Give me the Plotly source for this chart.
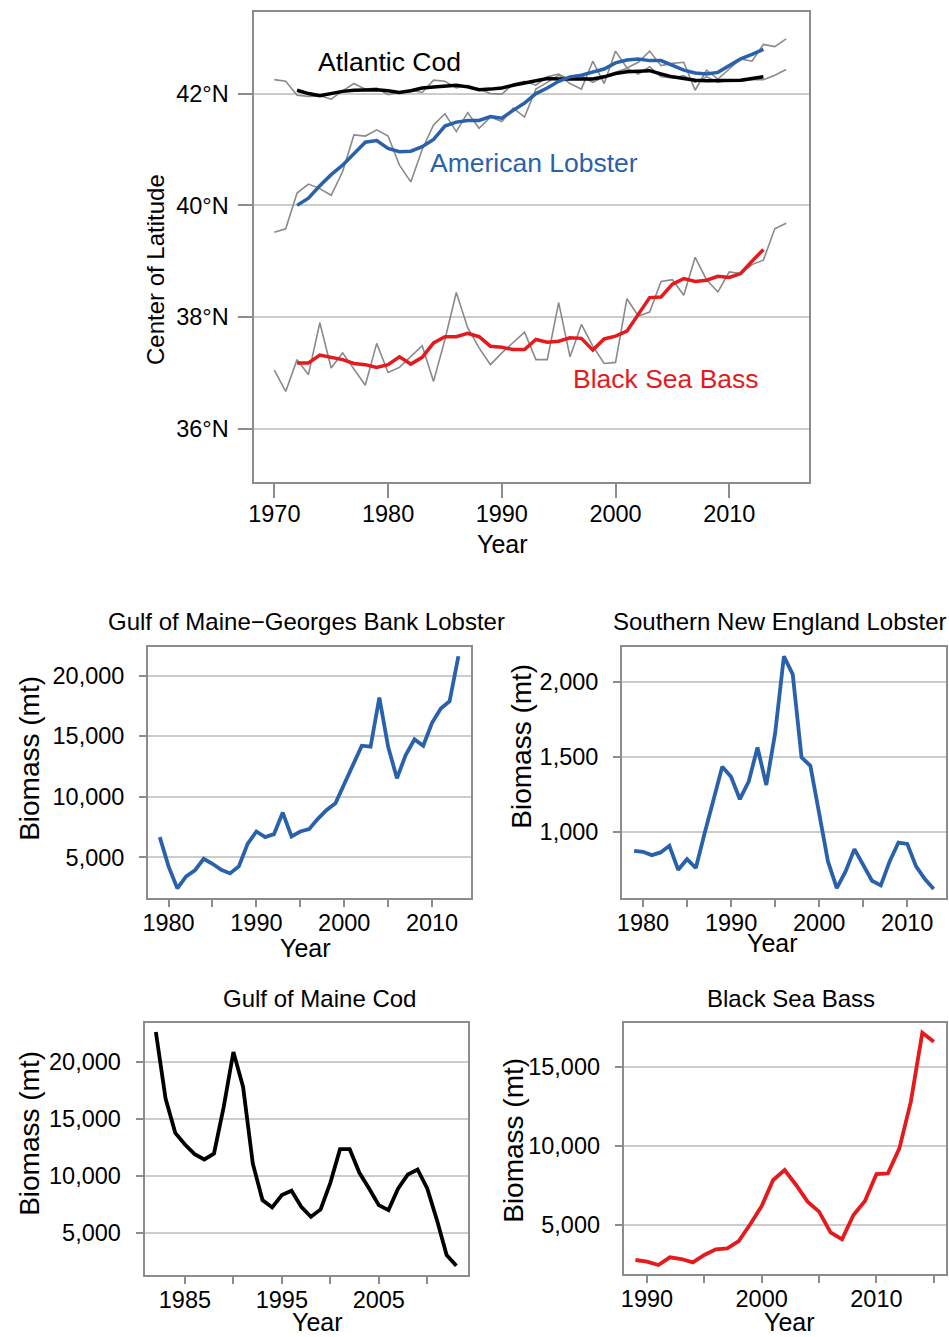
import plotly.graph_objects as go

# ---------------- Data ----------------
years_raw = list(range(1970, 2016))
years_smooth = list(range(1972, 2014))

cod_raw = [42.25, 42.22, 41.97, 41.95, 41.96, 41.90, 42.05, 42.18, 42.08, 42.10,
           41.98, 42.03, 42.06, 42.02, 42.24, 42.22, 42.10, 42.15, 42.08, 42.00,
           41.99, 42.17, 42.22, 42.15, 42.30, 42.35, 42.25, 42.32, 42.20, 42.30,
           42.38, 42.45, 42.35, 42.48, 42.30, 42.28, 42.32, 42.20, 42.30, 42.20,
           42.25, 42.22, 42.25, 42.25, 42.33, 42.43]
cod_smooth = [42.06, 42.00, 41.96, 42.00, 42.04, 42.06, 42.07, 42.07, 42.05, 42.02,
              42.05, 42.10, 42.12, 42.14, 42.15, 42.12, 42.07, 42.08, 42.10, 42.15,
              42.19, 42.23, 42.27, 42.26, 42.26, 42.25, 42.26, 42.30, 42.36, 42.39,
              42.40, 42.41, 42.35, 42.30, 42.27, 42.24, 42.23, 42.23, 42.23, 42.24,
              42.27, 42.30]

lob_raw = [39.52, 39.58, 40.22, 40.38, 40.30, 40.18, 40.60, 41.26, 41.24, 41.35,
           41.24, 40.72, 40.42, 41.00, 41.44, 41.64, 41.32, 41.66, 41.38, 41.58,
           41.50, 41.74, 41.58, 42.08, 42.20, 42.33, 42.18, 42.08, 42.58, 42.18,
           42.76, 42.46, 42.56, 42.76, 42.50, 42.54, 42.56, 42.06, 42.42, 42.26,
           42.44, 42.62, 42.58, 42.88, 42.84, 42.98]
lob_smooth = [40.00, 40.13, 40.35, 40.55, 40.72, 40.92, 41.13, 41.16, 41.02, 40.96,
              40.97, 41.05, 41.18, 41.42, 41.49, 41.52, 41.52, 41.59, 41.56, 41.70,
              41.83, 42.00, 42.10, 42.22, 42.30, 42.33, 42.38, 42.44, 42.55, 42.60,
              42.62, 42.59, 42.59, 42.50, 42.42, 42.37, 42.35, 42.38, 42.50, 42.62,
              42.70, 42.79]

bsb_raw = [37.05, 36.67, 37.24, 36.97, 37.90, 37.09, 37.36, 37.06, 36.78, 37.53,
           37.01, 37.10, 37.30, 37.49, 36.85, 37.60, 38.44, 37.81, 37.45, 37.15,
           37.36, 37.54, 37.73, 37.24, 37.24, 38.26, 37.29, 37.87, 37.48, 37.17,
           37.19, 38.33, 38.02, 38.09, 38.64, 38.67, 38.39, 39.07, 38.67, 38.45,
           38.81, 38.78, 38.94, 39.02, 39.58, 39.68]
bsb_smooth = [37.18, 37.18, 37.32, 37.28, 37.24, 37.17, 37.15, 37.10, 37.15, 37.29,
              37.16, 37.28, 37.54, 37.65, 37.65, 37.71, 37.65, 37.48, 37.46, 37.42,
              37.42, 37.60, 37.55, 37.57, 37.63, 37.62, 37.41, 37.61, 37.66, 37.75,
              38.05, 38.35, 38.36, 38.59, 38.69, 38.64, 38.66, 38.73, 38.71, 38.78,
              39.00, 39.21]
lat_ticks = [36, 38, 40, 42]
lat_labels = ["36°N", "38°N", "40°N", "42°N"]

gomgb_years = list(range(1979, 2014))
gomgb_lobster = [6673, 4259, 2449, 3436, 3930, 4890, 4479, 3985, 3683, 4259,
                 6125, 7140, 6673, 6920, 8703, 6728, 7140, 7332, 8182, 8923,
                 9471, 11035, 12763, 14216, 14134, 18194, 14134, 11528, 13448, 14738,
                 14216, 16109, 17289, 17892, 21595]

sne_years = list(range(1979, 2014))
sne_lobster = [876, 869, 847, 865, 909, 749, 820, 761, 993, 1215,
               1437, 1370, 1220, 1337, 1565, 1315, 1659, 2173, 2053, 1499,
               1443, 1126, 805, 627, 738, 887, 783, 676, 645, 805,
               931, 922, 772, 687, 621]

gom_cod_years = list(range(1982, 2014))
gom_cod = [22632, 16784, 13772, 12749, 11901, 11433, 11959, 16053, 20877, 17807,
           11082, 7865, 7222, 8304, 8684, 7281, 6404, 7047, 9386, 12339,
           12339, 10263, 8889, 7427, 6988, 8889, 10117, 10556, 8889, 6111,
           3041, 2105]

bsb_years = list(range(1989, 2016))
bsb_biomass = [2785, 2679, 2468, 2954, 2848, 2637, 3101, 3460, 3523, 3987,
               5042, 6203, 7848, 8481, 7532, 6477, 5844, 4536, 4093, 5633,
               6519, 8228, 8270, 9852, 12806, 17173, 16603]

# ---------------- Styles ----------------
FONT = "Liberation Sans, Arial, sans-serif"
BLUE = "#2961ab"
RED = "#e41a1c"
GREY_RAW = "#8a8a8a"
FRAME = "#8c8c8c"
GRID = "#cccccc"
W, H = 949, 1337


def px_x(p):
    return p / W


def px_y(p):
    return 1 - p / H


fig = go.Figure()

# top panel raw lines
for vals in (cod_raw, lob_raw, bsb_raw):
    fig.add_trace(go.Scatter(x=years_raw, y=vals, mode="lines",
                             line=dict(color=GREY_RAW, width=1.6),
                             xaxis="x", yaxis="y", showlegend=False))
# smoothed lines
fig.add_trace(go.Scatter(x=years_smooth, y=cod_smooth, mode="lines",
                         line=dict(color="black", width=3.5),
                         xaxis="x", yaxis="y", showlegend=False))
fig.add_trace(go.Scatter(x=years_smooth, y=lob_smooth, mode="lines",
                         line=dict(color=BLUE, width=3.5),
                         xaxis="x", yaxis="y", showlegend=False))
fig.add_trace(go.Scatter(x=years_smooth, y=bsb_smooth, mode="lines",
                         line=dict(color=RED, width=3.5),
                         xaxis="x", yaxis="y", showlegend=False))

# small panels
fig.add_trace(go.Scatter(x=gomgb_years, y=gomgb_lobster, mode="lines",
                         line=dict(color=BLUE, width=3.8),
                         xaxis="x2", yaxis="y2", showlegend=False))
fig.add_trace(go.Scatter(x=sne_years, y=sne_lobster, mode="lines",
                         line=dict(color=BLUE, width=3.8),
                         xaxis="x3", yaxis="y3", showlegend=False))
fig.add_trace(go.Scatter(x=gom_cod_years, y=gom_cod, mode="lines",
                         line=dict(color="black", width=3.8),
                         xaxis="x4", yaxis="y4", showlegend=False))
fig.add_trace(go.Scatter(x=bsb_years, y=bsb_biomass, mode="lines",
                         line=dict(color=RED, width=3.8),
                         xaxis="x5", yaxis="y5", showlegend=False))

tickfont = dict(family=FONT, size=23.5, color="black")

common_x = dict(showline=True, mirror=True, linecolor=FRAME, linewidth=2,
                showgrid=False, zeroline=False, ticks="outside", tickcolor=FRAME,
                tickwidth=2, tickfont=tickfont, ticklabelstandoff=-4)
common_y = dict(showline=True, mirror=True, linecolor=FRAME, linewidth=2,
                showgrid=True, gridcolor=GRID, gridwidth=2, zeroline=False,
                ticks="outside", tickcolor=FRAME, tickwidth=2, tickfont=tickfont)


def five_year_ticks(start, end, labelled):
    vals = list(range(start, end + 1, 5))
    text = [str(v) if v in labelled else "" for v in vals]
    return vals, text


x2v, x2t = five_year_ticks(1980, 2010, [1980, 1990, 2000, 2010])
x4v, x4t = five_year_ticks(1985, 2010, [1985, 1995, 2005])
x5v, x5t = five_year_ticks(1990, 2015, [1990, 2000, 2010])

fig.update_layout(
    width=W, height=H, margin=dict(l=0, r=0, t=0, b=0),
    paper_bgcolor="white", plot_bgcolor="white",
    font=dict(family=FONT, size=24, color="black"),
    xaxis=dict(common_x, domain=[px_x(250), px_x(808)], range=[1968.25, 2017.0],
               tickvals=[1970, 1980, 1990, 2000, 2010], ticklen=14, anchor="y"),
    yaxis=dict(common_y, domain=[px_y(482), px_y(12)], range=[35.05, 43.46],
               tickvals=lat_ticks, ticktext=lat_labels, ticklen=14,
               ticklabelstandoff=5, anchor="x"),
    xaxis2=dict(common_x, domain=[px_x(143), px_x(468)], range=[1977.67, 2014.44],
                tickvals=x2v, ticktext=x2t, ticklen=7, anchor="y2"),
    yaxis2=dict(common_y, domain=[px_y(898), px_y(647)], range=[1654, 22359],
                tickvals=[5000, 10000, 15000, 20000], tickformat=",", ticklen=7,
                ticklabelstandoff=10, anchor="x2"),
    xaxis3=dict(common_x, domain=[px_x(620), px_x(946)], range=[1977.63, 2014.4],
                tickvals=x2v, ticktext=x2t, ticklen=7, anchor="y3"),
    yaxis3=dict(common_y, domain=[px_y(898), px_y(647)], range=[561, 2235],
                tickvals=[1000, 1500, 2000], tickformat=",", ticklen=7,
                ticklabelstandoff=10, anchor="x3"),
    xaxis4=dict(common_x, domain=[px_x(139.5), px_x(464.5)], range=[1980.84, 2014.16],
                tickvals=x4v, ticktext=x4t, ticklen=7, anchor="y4"),
    yaxis4=dict(common_y, domain=[px_y(1275), px_y(1023)], range=[1287, 23421],
                tickvals=[5000, 10000, 15000, 20000], tickformat=",", ticklen=7,
                ticklabelstandoff=10, anchor="x4"),
    xaxis5=dict(common_x, domain=[px_x(621.7), px_x(945.7)], range=[1987.98, 2016.04],
                tickvals=x5v, ticktext=x5t, ticklen=7, anchor="y5"),
    yaxis5=dict(common_y, domain=[px_y(1274), px_y(1023.3)], range=[1899, 17764],
                tickvals=[5000, 10000, 15000], tickformat=",", ticklen=7,
                ticklabelstandoff=10, anchor="x5"),
)

annotations = []

# in-plot labels (top panel)
annotations.append(dict(x=1980.1, y=42.57, xref="x", yref="y", text="Atlantic Cod",
                        showarrow=False, font=dict(family=FONT, size=26.5, color="black")))
annotations.append(dict(x=1992.8, y=40.75, xref="x", yref="y", text="American Lobster",
                        showarrow=False, font=dict(family=FONT, size=26.5, color=BLUE)))
annotations.append(dict(x=2004.4, y=36.89, xref="x", yref="y", text="Black Sea Bass",
                        showarrow=False, font=dict(family=FONT, size=26.5, color=RED)))


def label(text, xp, yp, angle=0, size=24, yanchor="middle"):
    annotations.append(dict(x=px_x(xp), y=px_y(yp), xref="paper", yref="paper",
                            text=text, showarrow=False, textangle=angle,
                            xanchor="center", yanchor=yanchor, borderpad=0,
                            font=dict(family=FONT, size=size, color="black")))


# top panel axis titles
label("Center of Latitude", 150, 270, angle=-90, size=24)
label("Year", 500, 544, size=25)

# panel titles
label("Gulf of Maine\u2212Georges Bank Lobster", 302, 621)
label("Southern New England Lobster", 779, 621)
label("Gulf of Maine Cod", 315, 998)
label("Black Sea Bass", 790, 998)

# small panel axis titles
label("Biomass (mt)", 23, 758, angle=-90, size=28)
label("Year", 301, 948, size=25)
label("Biomass (mt)", 518, 746, angle=-90, size=28)
label("Year", 771, 943, size=25)
label("Biomass (mt)", 23, 1133, angle=-90, size=28)
label("Year", 313, 1337, size=25, yanchor="bottom")
label("Biomass (mt)", 510, 1140, angle=-90, size=28)
label("Year", 788, 1337, size=25, yanchor="bottom")

fig.update_layout(annotations=annotations)

fig.write_html("out.html", config={"displayModeBar": False},
               post_script="document.body.style.margin='0';document.body.style.overflow='hidden';")
